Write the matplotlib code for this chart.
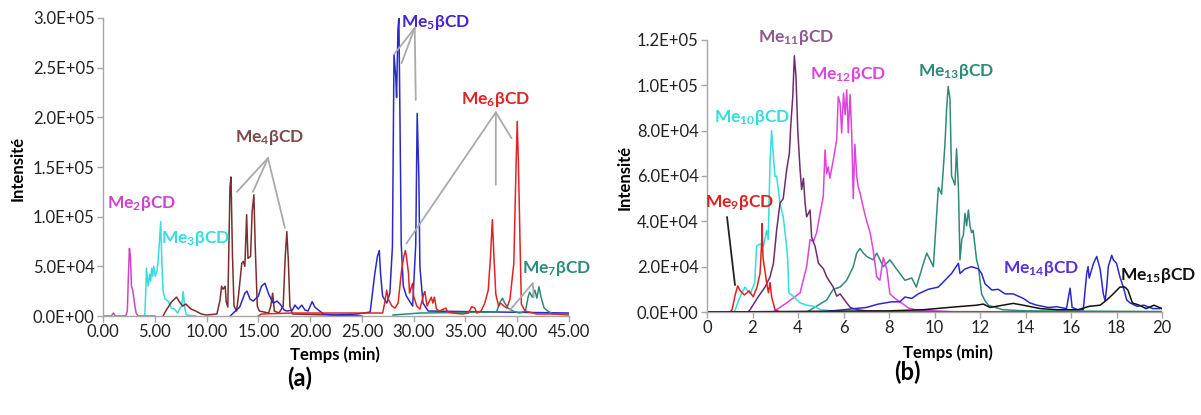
import numpy as np
import matplotlib
matplotlib.use("Agg")
import matplotlib.pyplot as plt

plt.rcParams['font.family'] = ['Lato', 'DejaVu Sans']
plt.rcParams['mathtext.fontset'] = 'custom'
plt.rcParams['mathtext.rm'] = 'Lato:bold'
plt.rcParams['mathtext.it'] = 'Lato:bold'
plt.rcParams['mathtext.bf'] = 'Lato:bold'

# ---- panel (a) data, intensities in 1e5 ----
me2_t = [0, 0.8, 1.0, 1.2, 2.2, 2.35, 2.45, 2.55, 2.65, 2.75, 2.85, 2.95, 3.05, 3.2, 3.4, 5.0]
me2_i = [0, 0, 0.03, 0, 0, 0.05, 0.4, 0.68, 0.6, 0.3, 0.27, 0.2, 0.12, 0.03, 0, 0]

me3_t = [3.9, 4.05, 4.2, 4.35, 4.5, 4.6, 4.7, 4.8, 4.9, 5.05, 5.2, 5.3, 5.45, 5.57, 5.68, 5.8,
         6.0, 6.3, 6.6, 6.9, 7.2, 7.45, 7.6, 7.75, 7.9, 8.05, 9.0]
me3_i = [0, 0.02, 0.48, 0.3, 0.42, 0.35, 0.48, 0.4, 0.5, 0.4, 0.45, 0.53, 0.75, 0.95, 0.55, 0.25,
         0.17, 0.15, 0.08, 0.07, 0.03, 0.08, 0.1, 0.245, 0.08, 0.01, 0]

me4_t = [5.8, 6.0, 6.6, 7.1, 7.4, 7.7, 8.0, 8.5, 8.95, 9.5, 10.0, 11.0, 11.3, 11.45, 11.6, 11.8,
         11.9, 12.05, 12.26, 12.36, 12.5, 12.65, 12.9, 13.1, 13.4, 13.55, 13.7, 13.87, 14.0,
         14.25, 14.4, 14.57, 14.7, 14.9, 15.1, 16.0, 16.2, 16.38, 16.55, 17.0, 17.4, 17.6,
         17.75, 17.9, 18.05, 18.3, 22.0, 25.0]
me4_i = [0, 0.04, 0.14, 0.19, 0.14, 0.1, 0.12, 0.07, 0.05, 0.02, 0.01, 0.02, 0.16, 0.3, 0.27, 0.3,
         0.14, 0.09, 1.3, 1.4, 0.62, 0.1, 0.05, 0.22, 0.53, 0.55, 0.5, 1.02, 0.58,
         0.6, 1.05, 1.22, 0.7, 0.1, 0.05, 0.03, 0.1, 0.23, 0.05, 0.03, 0.1, 0.6,
         0.85, 0.55, 0.1, 0.02, 0.01, 0]

me5_t = [12.3, 12.58, 13.2, 13.7, 13.9, 14.2, 14.5, 15.0, 15.3, 15.64, 16.0, 16.44, 16.8, 17.1,
         17.5, 17.8, 18.3, 18.53, 18.85, 19.2, 19.5, 19.8, 20.2, 20.45, 20.8, 21.3, 22.3, 24.55,
         25.8, 26.25, 26.5, 26.68, 26.8, 27.0, 27.4, 27.7, 27.95, 28.1, 28.27, 28.35, 28.48,
         28.57, 28.67, 28.8, 29.0, 29.3, 29.6, 29.9, 30.2, 30.34, 30.5, 30.6, 30.9, 31.4, 45.0]
me5_i = [0, 0.03, 0.09, 0.23, 0.25, 0.17, 0.15, 0.2, 0.3, 0.33, 0.22, 0.13, 0.15, 0.12,
         0.06, 0.05, 0.06, 0.11, 0.07, 0.11, 0.06, 0.05, 0.145, 0.09, 0.06, 0.02, 0.01, 0.02,
         0.04, 0.43, 0.6, 0.66, 0.43, 0.2, 0.13, 0.23, 0.7, 2.63, 2.41, 2.2, 2.88,
         3.0, 2.07, 0.72, 0.3, 0.2, 0.15, 0.1, 0.72, 2.04, 1.4, 0.5, 0.13, 0.05, 0.03]

me6_t = [15.0, 15.3, 18.2, 27.0, 27.2, 27.4, 27.55, 27.9, 28.2, 28.5, 28.83, 29.05, 29.2, 29.3,
         29.5, 29.6, 29.9, 30.0, 30.3, 30.6, 31.0, 31.08, 31.3, 31.7, 31.85, 32.0, 32.2, 32.5,
         33.1, 33.3, 33.8, 34.7, 35.3, 35.6, 35.9, 36.1, 36.5, 36.87, 37.2, 37.42, 37.6, 37.75,
         37.93, 38.2, 38.4, 38.7, 39.0, 39.3, 39.67, 39.87, 40.0, 40.1, 40.3, 40.4, 40.75,
         41.9, 45.0]
me6_i = [0, 0.02, 0.03, 0.03, 0.13, 0.26, 0.17, 0.1, 0.08, 0.13, 0.46, 0.6, 0.66, 0.6,
         0.43, 0.23, 0.33, 0.2, 0.1, 0.07, 0.23, 0.245, 0.1, 0.19, 0.13, 0.19, 0.07, 0.05,
         0.08, 0.04, 0.03, 0.02, 0.03, 0.095, 0.08, 0.03, 0.05, 0.13, 0.26, 0.6, 0.97, 0.6,
         0.22, 0.1, 0.13, 0.1, 0.08, 0.17, 0.53, 1.44, 1.96, 1.6, 0.6, 0.12, 0.05,
         0.02, 0.02]

me7_t = [28.0, 30.6, 38.0, 38.3, 38.57, 38.8, 39.1, 39.6, 40.2, 40.8, 41.05, 41.2, 41.45, 41.7,
         41.9, 42.1, 42.3, 42.6, 42.95, 43.45, 45.0]
me7_i = [0.01, 0.03, 0.04, 0.13, 0.18, 0.13, 0.08, 0.05, 0.03, 0.05, 0.19, 0.24, 0.19, 0.26,
         0.18, 0.295, 0.19, 0.08, 0.05, 0.02, 0.01]

# ---- panel (b) data, intensities in 1e4 ----
me9_t = [0, 1.0, 1.1, 1.25, 1.35, 1.45, 1.64, 1.85, 2.03, 2.2, 2.33, 2.4, 2.42, 2.46, 2.55,
         2.62, 2.7, 2.77, 2.84, 2.99, 3.2, 20]
me9_i = [0, 0, 0.1, 0.8, 1.15, 0.95, 0.75, 0.93, 0.67, 1.1, 1.7, 3.0, 3.9, 2.4, 1.8,
         1.3, 0.85, 1.3, 0.67, 0.1, 0, 0]

me10_t = [0, 1.2, 1.45, 1.67, 1.9, 2.1, 2.18, 2.33, 2.48, 2.62, 2.69, 2.77, 2.84, 2.92, 2.99,
          3.06, 3.21, 3.35, 3.5, 3.55, 3.6, 3.79, 4.09, 4.4, 4.7, 5.0, 5.5, 6.0, 20]
me10_i = [0, 0, 0.67, 1.1, 0.8, 1.3, 2.9, 3.0, 2.9, 3.6, 3.2, 6.6, 8.0, 6.85, 5.97,
          6.0, 4.8, 4.2, 2.9, 2.3, 0.84, 0.7, 0.4, 0.3, 0.25, 0.1, 0.05, 0, 0]

me11_t = [0, 1.8, 1.89, 2.25, 2.55, 2.77, 2.92, 3.06, 3.21, 3.35, 3.5, 3.62, 3.68, 3.77, 3.84,
          3.91, 3.99, 4.09, 4.16, 4.24, 4.31, 4.38, 4.53, 4.6, 4.75, 4.9, 5.12, 5.26, 5.55,
          5.7, 5.85, 6.14, 6.3, 6.6, 7.0, 8.0, 20]
me11_i = [0, 0, 0.1, 0.67, 1.1, 1.55, 2.15, 3.6, 4.8, 5.0, 6.26, 7.0, 8.2, 9.5, 11.3,
          10.4, 8.0, 6.3, 5.4, 5.9, 4.8, 4.2, 4.5, 3.3, 2.9, 2.15, 1.9, 1.55, 1.1,
          0.7, 0.8, 0.4, 0.2, 0.1, 0.05, 0.02, 0]

me12_t = [0, 2.9, 3.5, 4.09, 4.38, 4.53, 4.67, 4.82, 4.97, 5.11, 5.19, 5.26, 5.33, 5.4, 5.55,
          5.7, 5.77, 5.85, 5.92, 6.0, 6.07, 6.14, 6.21, 6.29, 6.36, 6.43, 6.5, 6.58, 6.65,
          6.73, 6.87, 7.02, 7.17, 7.31, 7.46, 7.6, 7.75, 7.9, 8.04, 8.26, 8.55, 8.85, 9.14,
          10.0, 11.0, 20]
me12_i = [0, 0, 0.4, 0.84, 2.0, 3.2, 3.1, 3.5, 4.35, 5.1, 7.15, 6.1, 6.4, 5.9, 6.7,
          7.6, 9.5, 9.2, 7.9, 9.65, 8.7, 9.8, 7.9, 9.6, 7.9, 5.0, 7.4, 6.0, 5.5,
          5.25, 4.6, 4.0, 3.5, 2.7, 1.55, 1.4, 2.4, 1.9, 0.8, 0.6, 0.4, 0.18, 0.1,
          0.05, 0, 0]

me13_t = [0, 4.4, 4.67, 5.26, 5.55, 5.85, 6.14, 6.43, 6.58, 6.73, 6.87, 7.02, 7.31, 7.46, 7.75,
          8.04, 8.33, 8.7, 9.0, 9.2, 9.5, 9.66, 9.95, 10.17, 10.31, 10.46, 10.53, 10.6, 10.68,
          10.75, 10.9, 10.97, 11.05, 11.12, 11.2, 11.27, 11.34, 11.41, 11.49, 11.56, 11.63,
          11.7, 11.78, 11.85, 11.93, 12.07, 12.22, 12.37, 13.0, 14.0, 20]
me13_i = [0, 0, 0.17, 0.53, 1.0, 1.1, 1.4, 2.0, 2.6, 2.8, 2.6, 2.45, 2.3, 2.6, 2.0,
          2.3, 1.9, 1.4, 1.5, 1.1, 2.1, 2.6, 2.0, 5.5, 5.2, 7.4, 8.9, 9.95, 9.4,
          6.0, 5.6, 7.2, 5.5, 2.3, 3.2, 3.4, 4.35, 3.8, 4.5, 3.8, 3.5,
          3.6, 2.9, 2.3, 2.0, 0.8, 0.5, 0.3, 0.1, 0.05, 0.02]

me14_t = [0, 5.0, 6.0, 7.0, 7.53, 8.12, 8.48, 8.7, 9.0, 9.29, 9.72, 10.17, 10.46, 10.75, 11.05,
          11.12, 11.34, 11.63, 11.93, 12.07, 12.22, 12.52, 12.8, 13.1, 13.46, 13.9, 14.2,
          14.5, 15.0, 15.37, 15.8, 15.96, 16.05, 16.3, 16.54, 16.69, 16.75, 16.8, 16.99,
          17.13, 17.28, 17.42, 17.5, 17.57, 17.64, 17.79, 17.86, 18.0, 18.15, 18.3, 18.45,
          18.6, 18.9, 19.2, 19.6, 20.0]
me14_i = [0, 0, 0.1, 0.2, 0.35, 0.45, 0.45, 0.66, 0.6, 0.8, 1.0, 1.1, 1.4, 1.7, 2.15,
          1.7, 1.9, 2.0, 1.9, 1.7, 1.25, 0.97, 1.0, 0.8, 0.8, 0.6, 0.4,
          0.3, 0.2, 0.23, 0.15, 1.05, 0.2, 0.1, 0.1, 1.7, 2.0, 1.5, 2.15,
          2.45, 1.9, 0.8, 0.5, 1.1, 2.0, 2.5, 2.3, 2.15, 1.55, 1.1, 0.53,
          0.4, 0.25, 0.3, 0.15, 0.15]

me15_t = [0, 8.0, 9.5, 10.97, 11.85, 12.15, 12.44, 13.0, 13.46, 13.9, 14.65, 15.4, 16.3, 16.8,
          17.28, 17.57, 17.86, 18.15, 18.37, 18.5, 18.7, 19.0, 19.3, 19.65, 20.0]
me15_i = [0, 0.05, 0.1, 0.23, 0.3, 0.35, 0.2, 0.3, 0.38, 0.3, 0.15, 0.1, 0.1, 0.25,
          0.3, 0.53, 0.8, 1.1, 1.1, 0.97, 0.4, 0.3, 0.15, 0.3, 0.15]

# labels: (text, x, y, color) ; y in panel units
labels_a = [(r'Me$_{\mathrm{2}}$βCD', 3.7, 1.13, '#cc44cc'),
            (r'Me$_{\mathrm{3}}$βCD', 8.9, 0.78, '#33dede'),
            (r'Me$_{\mathrm{4}}$βCD', 16.1, 1.80, '#7d4a48'),
            (r'Me$_{\mathrm{5}}$βCD', 32.1, 2.95, '#4a22d6'),
            (r'Me$_{\mathrm{6}}$βCD', 37.9, 2.18, '#e02424'),
            (r'Me$_{\mathrm{7}}$βCD', 43.8, 0.48, '#2e8b7a')]
labels_b = [(r'Me$_{\mathrm{9}}$βCD', 1.45, 4.85, '#e02020'),
            (r'Me$_{\mathrm{10}}$βCD', 1.98, 8.56, '#33dede'),
            (r'Me$_{\mathrm{11}}$βCD', 3.91, 12.1, '#8e5a8e'),
            (r'Me$_{\mathrm{12}}$βCD', 6.2, 10.5, '#dd44dd'),
            (r'Me$_{\mathrm{13}}$βCD', 10.95, 10.6, '#2e8b7a'),
            (r'Me$_{\mathrm{14}}$βCD', 14.68, 1.94, '#5a30d8'),
            (r'Me$_{\mathrm{15}}$βCD', 19.82, 1.59, '#111111')]

# leader lines: apex -> list of peak points
leaders_a = [((15.93, 1.59), [(12.93, 1.25), (14.48, 1.25), (17.57, 0.886)]),
             ((30.1, 2.90), [(28.19, 2.645), (28.83, 2.545), (30.2, 2.175)]),
             ((37.93, 2.05), [(29.3, 0.73), (37.93, 1.32), (39.45, 1.79)]),
             ((41.5, 0.33), [(39.3, 0.06), (41.6, 0.19)])]
leaders_b = [((0.88, 4.19), [(1.23, 1.19)])]

A = 1e5
B = 1e4

fig = plt.figure(figsize=(12.01, 4.15), dpi=100)
ax1 = fig.add_axes([103/1201, 99/415, 466/1201, 298/415])
ax2 = fig.add_axes([707/1201, 103/415, 455/1201, 272/415])

lw = 1.1
ax1.plot(me2_t, np.array(me2_i)*A, color='#cc44cc', lw=lw)
ax1.plot(me3_t, np.array(me3_i)*A, color='#33dede', lw=lw)
ax1.plot(me4_t, np.array(me4_i)*A, color='#7b2e2e', lw=lw)
ax1.plot(me5_t, np.array(me5_i)*A, color='#2a2acc', lw=lw)
ax1.plot(me7_t, np.array(me7_i)*A, color='#2e8b7a', lw=lw)
ax1.plot(me6_t, np.array(me6_i)*A, color='#e02424', lw=lw)

ax2.plot(me13_t, np.array(me13_i)*B, color='#2e8b7a', lw=lw)
ax2.plot(me12_t, np.array(me12_i)*B, color='#dd44dd', lw=lw)
ax2.plot(me10_t, np.array(me10_i)*B, color='#33dede', lw=lw)
ax2.plot(me11_t, np.array(me11_i)*B, color='#6e2c6e', lw=lw)
ax2.plot(me9_t, np.array(me9_i)*B, color='#e02020', lw=lw)
ax2.plot(me14_t, np.array(me14_i)*B, color='#2a2acc', lw=lw)
ax2.plot(me15_t, np.array(me15_i)*B, color='#111111', lw=lw)

for ax, labels, leaders, sc, lcol in [(ax1, labels_a, leaders_a, A, '#aaaaaa'),
                                      (ax2, labels_b, leaders_b, B, '#222222')]:
    for apex, pts in leaders:
        for p in pts:
            ax.annotate('', xy=(p[0], p[1]*sc), xytext=(apex[0], apex[1]*sc),
                        arrowprops=dict(arrowstyle='-', color=lcol, lw=1.3,
                                        shrinkA=0, shrinkB=0))
    for txt, x, y, c in labels:
        ax.text(x, y*sc, txt, color=c, fontsize=12.5, fontweight='bold',
                ha='center', va='center', clip_on=False)

ax1.set_xlim(0, 45)
ax1.set_ylim(0, 3e5)
ax1.set_xticks(np.arange(0, 46, 5))
ax1.set_xticklabels(['%.2f' % v for v in np.arange(0, 46, 5)])
ax1.set_yticks(np.arange(0, 3.01e5, 0.5e5))
ax1.set_yticklabels(['%.1E' % v for v in np.arange(0, 3.01e5, 0.5e5)])

ax2.set_xlim(0, 20)
ax2.set_ylim(0, 1.2e5)
ax2.set_xticks(np.arange(0, 21, 2))
ax2.set_xticklabels(['%d' % v for v in np.arange(0, 21, 2)])
ax2.set_yticks(np.arange(0, 1.21e5, 2e4))
ax2.set_yticklabels(['%.1E' % v for v in np.arange(0, 1.21e5, 2e4)])

for ax in (ax1, ax2):
    for s in ('top', 'right'):
        ax.spines[s].set_visible(False)
    for s in ('left', 'bottom'):
        ax.spines[s].set_color('#a6a6a6')
        ax.spines[s].set_linewidth(1.0)
    ax.tick_params(axis='both', colors='#a6a6a6', labelcolor='#222222', labelsize=12,
                   length=4, width=1.0, pad=2)

fig.text(18/1201, 1 - 168/415, 'Intensité', rotation=90, fontsize=12, fontweight='bold',
         ha='center', va='center')
fig.text(625/1201, 1 - 177/415, 'Intensité', rotation=90, fontsize=12, fontweight='bold',
         ha='center', va='center')
fig.text(335/1201, 1 - 355/415, 'Temps (min)', fontsize=12, fontweight='bold',
         ha='center', va='center')
fig.text(948/1201, 1 - 353/415, 'Temps (min)', fontsize=12, fontweight='bold',
         ha='center', va='center')
fig.text(300/1201, 1 - 378/415, '(a)', fontsize=17, fontweight='bold', ha='center', va='center')
fig.text(907/1201, 1 - 372/415, '(b)', fontsize=17, fontweight='bold', ha='center', va='center')

fig.savefig('out.png', dpi=100)
